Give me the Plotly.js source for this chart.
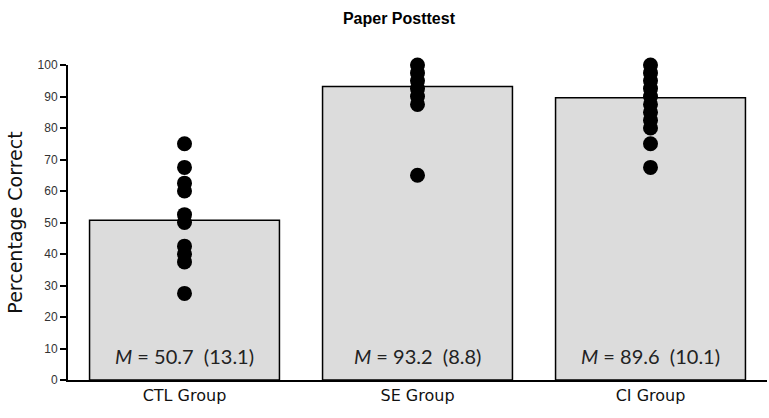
<!DOCTYPE html>
<html>
<head>
<meta charset="utf-8">
<script src="https://cdn.plot.ly/plotly-3.0.1.min.js"></script>
<style>
  body { margin: 0; background: #fff; }
  #chart { width: 769px; height: 418px; }
</style>
</head>
<body>
<div id="chart"></div>
<script>
// values
var groups = ['CTL Group', 'SE Group', 'CI Group'];
var means = [50.7, 93.2, 89.6];
var sds = [13.1, 8.8, 10.1];
var ctlScores = [75, 67.5, 62.5, 60, 52.5, 50, 42.5, 40, 37.5, 27.5];
var seScores = [100, 97.5, 95, 92.5, 90, 87.5, 65];
var ciScores = [100, 97.5, 95, 92.5, 90, 87.5, 85, 82.5, 80, 75, 67.5];

function plot() {
    var bars = {
        type: 'bar',
        x: groups,
        y: means,
        marker: { color: '#dcdcdc', line: { color: '#000', width: 1.5 } },
        hoverinfo: 'skip'
    };
    var scores = [ctlScores, seScores, ciScores];
    var dots = [];
    scores.forEach(function (s, i) {
        dots.push({
            type: 'scatter',
            mode: 'markers',
            x: s.map(function () { return groups[i]; }),
            y: s,
            cliponaxis: false,
            marker: { color: '#000', size: 15 }
        });
    });

    var notes = groups.map(function (g, i) {
        return {
            x: g, y: 7.5, xref: 'x', yref: 'y',
            text: '<i>M</i> = ' + means[i].toFixed(1) + '  (' + sds[i].toFixed(1) + ')',
            showarrow: false,
            font: { family: 'Lato, Liberation Sans, sans-serif', size: 20, color: '#222' }
        };
    });

    var layout = {
        width: 769,
        height: 418,
        margin: { l: 68, r: 2, t: 65, b: 38 },
        paper_bgcolor: '#fff',
        plot_bgcolor: '#fff',
        showlegend: false,
        bargap: 0.185,
        font: { family: 'Liberation Sans, Arial, sans-serif', color: '#222' },
        title: {
            text: '<b>Paper Posttest</b>',
            font: { size: 16, color: '#000' },
            x: 0.4735, xref: 'paper', xanchor: 'center',
            y: 0.955, yref: 'container', yanchor: 'middle'
        },
        xaxis: {
            type: 'category',
            range: [-0.5, 2.5],
            showline: true,
            linecolor: '#000',
            linewidth: 2,
            ticks: '',
            showgrid: false,
            tickfont: { family: 'DejaVu Sans, sans-serif', size: 16, color: '#111' }
        },
        yaxis: {
            range: [0, 100],
            dtick: 10,
            showline: true,
            linecolor: '#000',
            linewidth: 2,
            ticks: 'outside',
            ticklen: 6,
            tickwidth: 1.5,
            tickcolor: '#000',
            showgrid: false,
            zeroline: false,
            tickfont: { size: 12, color: '#333' },
            title: { text: 'Percentage Correct', font: { family: 'DejaVu Sans, sans-serif', size: 19, color: '#111' }, standoff: 10 }
        },
        annotations: notes
    };
    Plotly.newPlot('chart', [bars].concat(dots), layout, { displayModeBar: false });
}
plot();
</script>
</body>
</html>
